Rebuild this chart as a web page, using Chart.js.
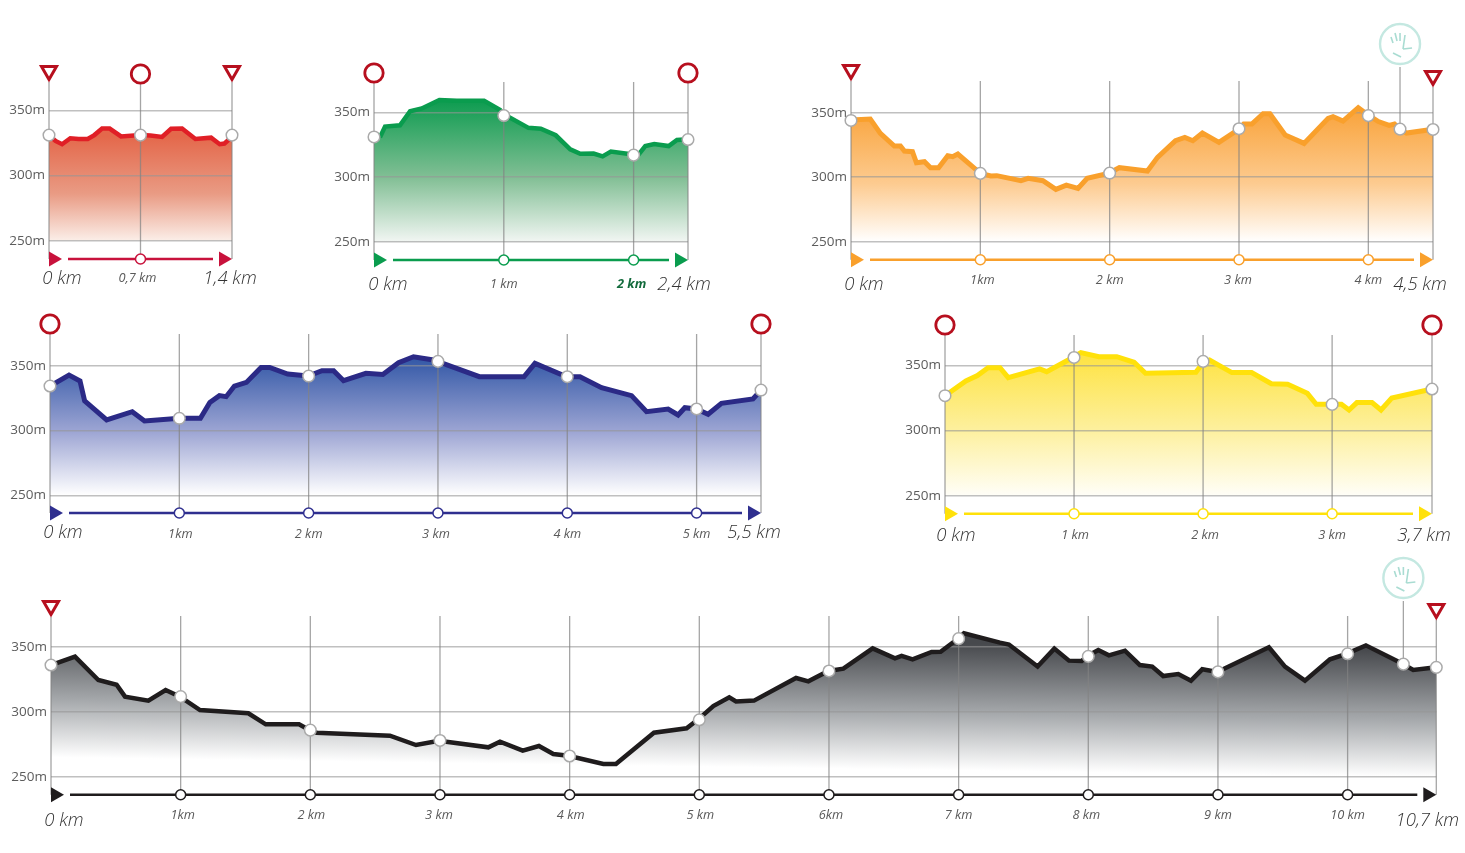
<!DOCTYPE html>
<html>
<head>
<meta charset="utf-8">
<title>Profils</title>
<script src="https://cdn.jsdelivr.net/npm/chart.js@4"></script>
<style>
html, body { margin: 0; padding: 0; background: #fff; overflow: hidden; }
canvas { position: absolute; }
</style>
</head>
<body>
<script>
// elevation ticks shared by all six profiles
const elevTicks = [250, 300, 350];

// red
const redKm = [0,.05,.10,.163,.227,.296,.347,.406,.464,.551,.70,.776,.865,.934,1.018,1.12,1.24,1.306,1.342,1.40];
const redElev = [331,326.5,324,328.6,328,328,331,336,336,330,331,330.7,329.6,335.8,336,328,329,324,324.5,329.6];
const redMarkKm = [0,.7,1.4];
const redMarkElev = [331,331,331];
const redTicks = [0,.7,1.4];
const redTickText = ['0 km','0,7 km','1,4 km'];

// green
const greenKm = [0,.051,.085,.20,.278,.368,.504,.638,.848,.972,1.0,1.19,1.285,1.40,1.512,1.589,1.692,1.761,1.825,1.995,2.03,2.09,2.159,2.27,2.334,2.419];
const greenElev = [331.3,331.8,339,340,350.8,353,359.5,359,359,351.8,348.5,338,337.4,332.3,321.5,318,318.2,316,319.7,317.4,316.4,324,325.6,324,328.7,329.2];
const greenMarkKm = [0,1,2,2.419];
const greenMarkElev = [331,347.5,317,329];
const greenTicks = [0,1,2,2.419];
const greenTickText = ['0 km','1 km','2 km','2,4 km'];

// orange
const orangeKm = [0,.149,.227,.335,.382,.413,.475,.506,.568,.615,.677,.748,.786,.826,1.0,1.081,1.127,1.314,1.37,1.484,1.584,1.665,1.755,1.826,1.997,2.075,2.292,2.37,2.509,2.581,2.643,2.717,2.845,3.006,3.037,3.099,3.186,3.239,3.357,3.503,3.689,3.727,3.804,3.922,4.006,4.078,4.161,4.202,4.245,4.295,4.5];
const orangeElev = [344.3,345.1,334,324.2,324.2,320.3,319.8,311.2,312,307.3,307.3,316.7,315.9,318,303,300.9,301.2,297.3,299.1,297.3,290.6,293.9,291.3,299.1,303.2,307.4,304.8,315.4,328.3,330.9,328.3,334.2,327,337.6,341.2,341.2,349.2,349.2,332.7,326.2,345.6,346.9,343.5,353.9,347.7,343.1,340.2,341.2,337.3,334.2,337.1];
const orangeMarkKm = [0,1,2,3,4,4.245,4.5];
const orangeMarkElev = [344,303,303.2,337.6,347.7,337.3,337];
const orangeTicks = [0,1,2,3,4,4.5];
const orangeTickText = ['0 km','1km','2 km','3 km','4 km','4,5 km'];

// blue
const blueKm = [0,.147,.232,.268,.438,.636,.731,1.001,1.163,1.236,1.31,1.362,1.426,1.519,1.632,1.699,1.838,1.997,2.103,2.193,2.27,2.443,2.574,2.695,2.811,2.965,3.32,3.665,3.75,3.995,4.098,4.265,4.497,4.613,4.78,4.857,4.909,4.999,5.089,5.192,5.436,5.498];
const blueElev = [334.3,342.8,338.2,322.8,308.1,314.5,307.3,309.4,309.4,321.7,326.9,326.1,334.3,337.1,348.7,348.7,343.6,342,346.1,346.1,338.4,344.1,343.3,352.3,356.9,354.4,341.5,341.5,351.8,341.5,341.5,333,326.9,314.5,316.6,312,317.6,316.6,312.5,321,324.3,331.2];
const blueMarkKm = [0,1,2,3,4,5,5.498];
const blueMarkElev = [334.3,309.4,342,353.3,341.5,316.6,331.2];
const blueTicks = [0,1,2,3,4,5,5.498];
const blueTickText = ['0 km','1km','2 km','3 km','4 km','5 km','5,5 km'];

// yellow
const yellowKm = [0,.162,.251,.334,.426,.49,.733,.788,.955,1.053,1.192,1.331,1.465,1.554,1.944,2.003,2.05,2.223,2.376,2.529,2.655,2.808,2.877,3.0,3.072,3.131,3.192,3.309,3.379,3.462,3.774];
const yellowElev = [326.7,338,342.1,348.2,348.2,340.5,347.2,345.1,354.1,359.7,356.6,356.6,352.3,343.9,344.6,352.3,354.1,344.4,344.4,335.9,335.4,328.5,320.1,320.1,320.1,315.7,321.4,321.4,315.7,324.9,331.8];
const yellowMarkKm = [0,1,2,3,3.774];
const yellowMarkElev = [326.7,356,353,320,331.8];
const yellowTicks = [0,1,2,3,3.774];
const yellowTickText = ['0 km','1 km','2 km','3 km','3,7 km'];

// black
const blackKm = [0,.185,.365,.506,.571,.751,.884,.995,1.149,1.522,1.656,1.913,1.992,2.049,2.614,2.815,2.992,3.373,3.463,3.638,3.763,3.874,3.99,4.26,4.357,4.65,4.902,4.992,5.108,5.231,5.283,5.422,5.746,5.841,5.995,6.111,6.337,6.509,6.56,6.645,6.792,6.861,6.997,7.041,7.319,7.388,7.609,7.738,7.851,7.949,7.995,8.077,8.159,8.283,8.398,8.493,8.578,8.694,8.792,8.879,8.995,9.393,9.517,9.671,9.864,9.985,10.141,10.416,10.506,10.684];
const blackElev = [336.3,342.8,324.7,321.1,311.9,308.8,317,311.9,301.5,299,290.5,290.5,286.1,284,281.7,274.5,277.8,272.7,277.1,270.1,273.7,267.5,266.2,259.8,259.8,284,287.4,294.3,304.6,311.3,308.2,308.8,326.3,323.7,331.7,333.5,349.2,341.5,343.3,340.7,346.4,346.6,356.7,360.8,353.6,352.1,335.1,349,339.7,339.4,343.3,347.9,343.8,347.4,336.3,335.1,327.8,329.4,324.2,333,330.9,350,335.1,324.2,340.7,344.8,351.5,337.6,332.5,334.5];
const blackMarkKm = [0,1,2,3,4,5,6,7,8,9,10,10.43,10.684];
const blackMarkElev = [336.3,311.9,286,278,266,294,331.7,356.7,343,331,345,337,334.5];
const blackTicks = [0,1,2,3,4,5,6,7,8,9,10,10.684];
const blackTickText = ['0 km','1km','2 km','3 km','4 km','5 km','6km','7 km','8 km','9 km','10 km','10,7 km'];

// box = canvas rect, x0/x1 = first and last km, y350/y250 = gridlines, baseY = arrow line
const profiles = [
  { km: redKm, elev: redElev, markKm: redMarkKm, markElev: redMarkElev, ticks: redTicks, text: redTickText,
    box: [0,30,290,270], x0: 49, x1: 232, y350: 110.3, y250: 240.7, baseY: 259, lineTop: 85, bigY: 279, smallY: 278,
    dx: [13,-3,-2], line: '#e01f26', width: 4.5, base: '#c8123c', grad: [330,250,0,'#e4684b','#e99b84','#fbeee8'],
    signs: [{km:0,kind:'tri',y:73},{km:.7,kind:'ring',y:74},{km:1.4,kind:'tri',y:73}] },
  { km: greenKm, elev: greenElev, markKm: greenMarkKm, markElev: greenMarkElev, ticks: greenTicks, text: greenTickText,
    box: [320,30,410,270], x0: 374, x1: 688, y350: 112.3, y250: 242, baseY: 260, lineTop: 82, bigY: 285, smallY: 284,
    dx: [14,0,-2,-4], bold: 2, line: '#0a9c4e', width: 4.5, base: '#0a9c4e', grad: [360,250,0,'#0c9b4f','#82bf95','#f2f6f3'],
    signs: [{km:0,kind:'ring',y:73},{km:2.419,kind:'ring',y:73}] },
  { km: orangeKm, elev: orangeElev, markKm: orangeMarkKm, markElev: orangeMarkElev, ticks: orangeTicks, text: orangeTickText,
    box: [800,15,660,285], x0: 851, x1: 1433, y350: 112.7, y250: 241.7, baseY: 259.7, lineTop: 81, bigY: 285, smallY: 280,
    dx: [13,2,0,-1,0,-13], line: '#f9a02c', width: 5, base: '#f9a02c', grad: [350,250,0,'#f9a53f','#fdcb90','#ffffff'],
    signs: [{km:0,kind:'tri',y:72},{km:4.245,kind:'hand',y:44},{km:4.5,kind:'tri',y:78}] },
  { km: blueKm, elev: blueElev, markKm: blueMarkKm, markElev: blueMarkElev, ticks: blueTicks, text: blueTickText,
    box: [0,285,800,265], x0: 50, x1: 761, y350: 365.7, y250: 495.3, baseY: 513, lineTop: 334, bigY: 533, smallY: 534,
    dx: [13,1,0,-2,0,0,-7], line: '#2b2a86', width: 5, base: '#2f2f8f', grad: [358,250,0,'#2f55a5','#9ea6d4','#ffffff'],
    signs: [{km:0,kind:'ring',y:324},{km:5.498,kind:'ring',y:324}] },
  { km: yellowKm, elev: yellowElev, markKm: yellowMarkKm, markElev: yellowMarkElev, ticks: yellowTicks, text: yellowTickText,
    box: [900,285,565,265], x0: 945, x1: 1432, y350: 365.3, y250: 495.7, baseY: 513.7, lineTop: 335, bigY: 536, smallY: 535,
    dx: [11,1,2,0,-8], line: '#ffe10a', width: 5, base: '#ffe10a', grad: [362,250,0,'#fee23c','#fdf09e','#fffef8'],
    signs: [{km:0,kind:'ring',y:325},{km:3.774,kind:'ring',y:325}] },
  { km: blackKm, elev: blackElev, markKm: blackMarkKm, markElev: blackMarkElev, ticks: blackTicks, text: blackTickText,
    box: [0,545,1465,290], x0: 51, x1: 1436.3, y350: 647.3, y250: 776.7, baseY: 794.7, lineTop: 616, bigY: 821, smallY: 815,
    dx: [13,2,1,-1,1,1,2,0,-2,0,0,-9], line: '#1f1c1d', width: 4.5, base: '#1f1c1d', grad: [363,265,.0144,'#47494d','#a6a9ac','#ffffff'],
    signs: [{km:0,kind:'tri',y:608},{km:10.43,kind:'hand',y:578},{km:10.684,kind:'tri',y:611}] }
];

const SIGN_RED = '#b70f1e';

function drawSign(ctx, x, y, kind) {
  ctx.save();
  if (kind == 'ring') {
    ctx.strokeStyle = SIGN_RED;
    ctx.lineWidth = 2.8;
    ctx.beginPath();
    ctx.arc(x, y, 9.2, 0, Math.PI * 2);
    ctx.stroke();
  } else if (kind == 'tri') {
    ctx.strokeStyle = SIGN_RED;
    ctx.lineWidth = 3;
    ctx.lineJoin = 'miter';
    ctx.beginPath();
    ctx.moveTo(x - 7.5, y - 6.5);
    ctx.lineTo(x + 7.5, y - 6.5);
    ctx.lineTo(x, y + 6.5);
    ctx.closePath();
    ctx.stroke();
  } else {
    ctx.strokeStyle = '#c4e8e1';
    ctx.lineWidth = 2.4;
    ctx.beginPath();
    ctx.arc(x, y, 20, 0, Math.PI * 2);
    ctx.stroke();
    ctx.strokeStyle = '#a9dcd2';
    ctx.lineWidth = 1.6;
    const strokes = [[-9,-7,-7,-1],[-5,-11,-3,-3],[0,-11,0,-3],[5,-9,3,5],[3,5,12,4],[-7,9,1,13]];
    strokes.forEach(function(s) {
      ctx.beginPath();
      ctx.moveTo(x + s[0], y + s[1]);
      ctx.lineTo(x + s[2], y + s[3]);
      ctx.stroke();
    });
  }
  ctx.restore();
}

function signBottom(sign) {
  if (sign.kind == 'ring') return sign.y + 10;
  if (sign.kind == 'hand') return sign.y + 23;
  return sign.y + 9;
}

function drawArrow(ctx, x, y, dir, color) {
  // dir 1: starts at x, dir -1: ends at x
  const a = dir > 0 ? x : x - 13;
  ctx.fillStyle = color;
  ctx.beginPath();
  ctx.moveTo(a, y - 7.5);
  ctx.lineTo(a + 13, y);
  ctx.lineTo(a, y + 7.5);
  ctx.closePath();
  ctx.fill();
}

// everything around the profile: km lines, arrow line, signs, km labels
const decor = {
  id: 'decor',
  beforeDatasetDraw(chart, args) {
    if (args.index > 0) return false;
  },
  afterDraw(chart) {
    const p = chart.config.options.plugins.decor.profile;
    const ctx = chart.ctx;
    const top = chart.canvas.offsetTop;
    const xs = chart.scales.x;
    const baseY = p.baseY - top;

    // vertical lines
    ctx.save();
    ctx.strokeStyle = 'rgba(130,130,130,0.72)';
    ctx.lineWidth = 1.3;
    const lines = p.ticks.map(function(t) { return { km: t, top: p.lineTop - top }; });
    p.signs.forEach(function(s) {
      const hit = lines.find(function(l) { return l.km == s.km; });
      if (hit) hit.top = signBottom(s) - top;
      else lines.push({ km: s.km, top: signBottom(s) - top });
    });
    lines.forEach(function(l) {
      const x = xs.getPixelForValue(l.km);
      ctx.beginPath();
      ctx.moveTo(x, l.top);
      // hand line stops at the curve marker
      const i = p.markKm.indexOf(l.km);
      const onTick = p.ticks.indexOf(l.km) >= 0;
      ctx.lineTo(x, onTick || i < 0 ? baseY : chart.scales.y.getPixelForValue(p.markElev[i]));
      ctx.stroke();
    });
    ctx.restore();

    // arrow line with km rings
    const x0 = xs.getPixelForValue(0);
    const x1 = xs.getPixelForValue(xs.max);
    ctx.save();
    ctx.strokeStyle = p.base;
    ctx.lineWidth = 2.4;
    ctx.beginPath();
    ctx.moveTo(x0 + 19, baseY);
    ctx.lineTo(x1 - 19, baseY);
    ctx.stroke();
    drawArrow(ctx, x0, baseY, 1, p.base);
    drawArrow(ctx, x1, baseY, -1, p.base);
    ctx.fillStyle = '#fff';
    ctx.lineWidth = 1.5;
    p.ticks.slice(1, -1).forEach(function(t) {
      ctx.beginPath();
      ctx.arc(xs.getPixelForValue(t), baseY, 5, 0, Math.PI * 2);
      ctx.fill();
      ctx.stroke();
    });
    ctx.restore();

    p.signs.forEach(function(s) {
      drawSign(ctx, xs.getPixelForValue(s.km), s.y - top, s.kind);
    });

    // curve and its markers go on top of the grid
    chart.getDatasetMeta(1).controller.draw();
    chart.getDatasetMeta(2).controller.draw();

    // km labels
    ctx.save();
    ctx.textAlign = 'center';
    ctx.textBaseline = 'middle';
    p.ticks.forEach(function(t, i) {
      const big = i == 0 || i == p.ticks.length - 1;
      const x = xs.getPixelForValue(t) + p.dx[i];
      ctx.fillStyle = '#5a5a5a';
      ctx.font = 'italic 400 12.8px "Open Sans"';
      if (big) {
        ctx.font = 'italic 300 18.5px "Open Sans"';
        ctx.fillStyle = '#333';
      }
      if (p.bold === i) {
        ctx.font = 'italic 700 12.8px "Open Sans"';
        ctx.fillStyle = '#136b3c';
      }
      ctx.fillText(p.text[i], x, (big ? p.bigY : p.smallY) - top);
    });
    ctx.restore();
  }
};

function fillGradient(p) {
  return function(c) {
    const chart = c.chart;
    if (!chart.chartArea) return p.grad[3];
    const ys = chart.scales.y;
    const xa = chart.scales.x.getPixelForValue(0);
    const ya = ys.getPixelForValue(p.grad[0]);
    const yb = ys.getPixelForValue(p.grad[1]);
    const g = chart.ctx.createLinearGradient(xa, ya, xa - p.grad[2] * (yb - ya), yb);
    g.addColorStop(0, p.grad[3]);
    g.addColorStop(.55, p.grad[4]);
    g.addColorStop(1, p.grad[5]);
    return g;
  };
}

profiles.forEach(function(p) {
  const cv = document.createElement('canvas');
  const b = p.box;
  cv.width = b[2];
  cv.height = b[3];
  cv.style.left = b[0] + 'px';
  cv.style.top = b[1] + 'px';
  cv.style.width = b[2] + 'px';
  cv.style.height = b[3] + 'px';
  document.body.appendChild(cv);

  const curve = p.km.map(function(k, i) { return { x: k, y: p.elev[i] }; });
  const marks = p.markKm.map(function(k, i) { return { x: k, y: p.markElev[i] }; });
  // y axis runs to 400 m so the fill above the 350 m line is not clipped
  const y400 = p.y350 - (p.y250 - p.y350) / 2;

  new Chart(cv.getContext('2d'), {
    type: 'line',
    data: {
      datasets: [
        { data: curve, borderWidth: 0, pointRadius: 0, tension: 0, fill: { value: 250 }, backgroundColor: fillGradient(p), clip: false },
        { data: curve, borderColor: p.line, borderWidth: p.width, pointRadius: 0, tension: 0, fill: false, clip: false },
        { data: marks, showLine: false, pointRadius: 5.8, pointBackgroundColor: '#fff', pointBorderColor: '#aaa', pointBorderWidth: 1.5, fill: false, clip: false }
      ]
    },
    options: {
      responsive: false,
      animation: false,
      devicePixelRatio: 1,
      layout: { padding: { left: 0, right: b[0] + b[2] - p.x1, top: y400 - b[1], bottom: b[1] + b[3] - p.y250 } },
      plugins: { legend: { display: false }, tooltip: { enabled: false }, decor: { profile: p } },
      events: [],
      scales: {
        x: { type: 'linear', display: false, min: 0, max: p.ticks[p.ticks.length - 1] },
        y: {
          min: 250,
          max: 400,
          afterBuildTicks: function(axis) { axis.ticks = elevTicks.map(function(v) { return { value: v }; }); },
          afterFit: function(axis) { axis.width = p.x0 - b[0]; axis.paddingTop = 0; axis.paddingBottom = 0; },
          border: { display: false },
          grid: { z: 1, color: 'rgba(150,150,150,0.6)', lineWidth: 1.6, drawTicks: false },
          ticks: {
            padding: 4,
            color: '#5c5c5c',
            font: { family: '"Open Sans"', size: 13.5, weight: '400' },
            callback: function(v) { return v + 'm'; }
          }
        }
      }
    },
    plugins: [decor]
  });
});
</script>
</body>
</html>
